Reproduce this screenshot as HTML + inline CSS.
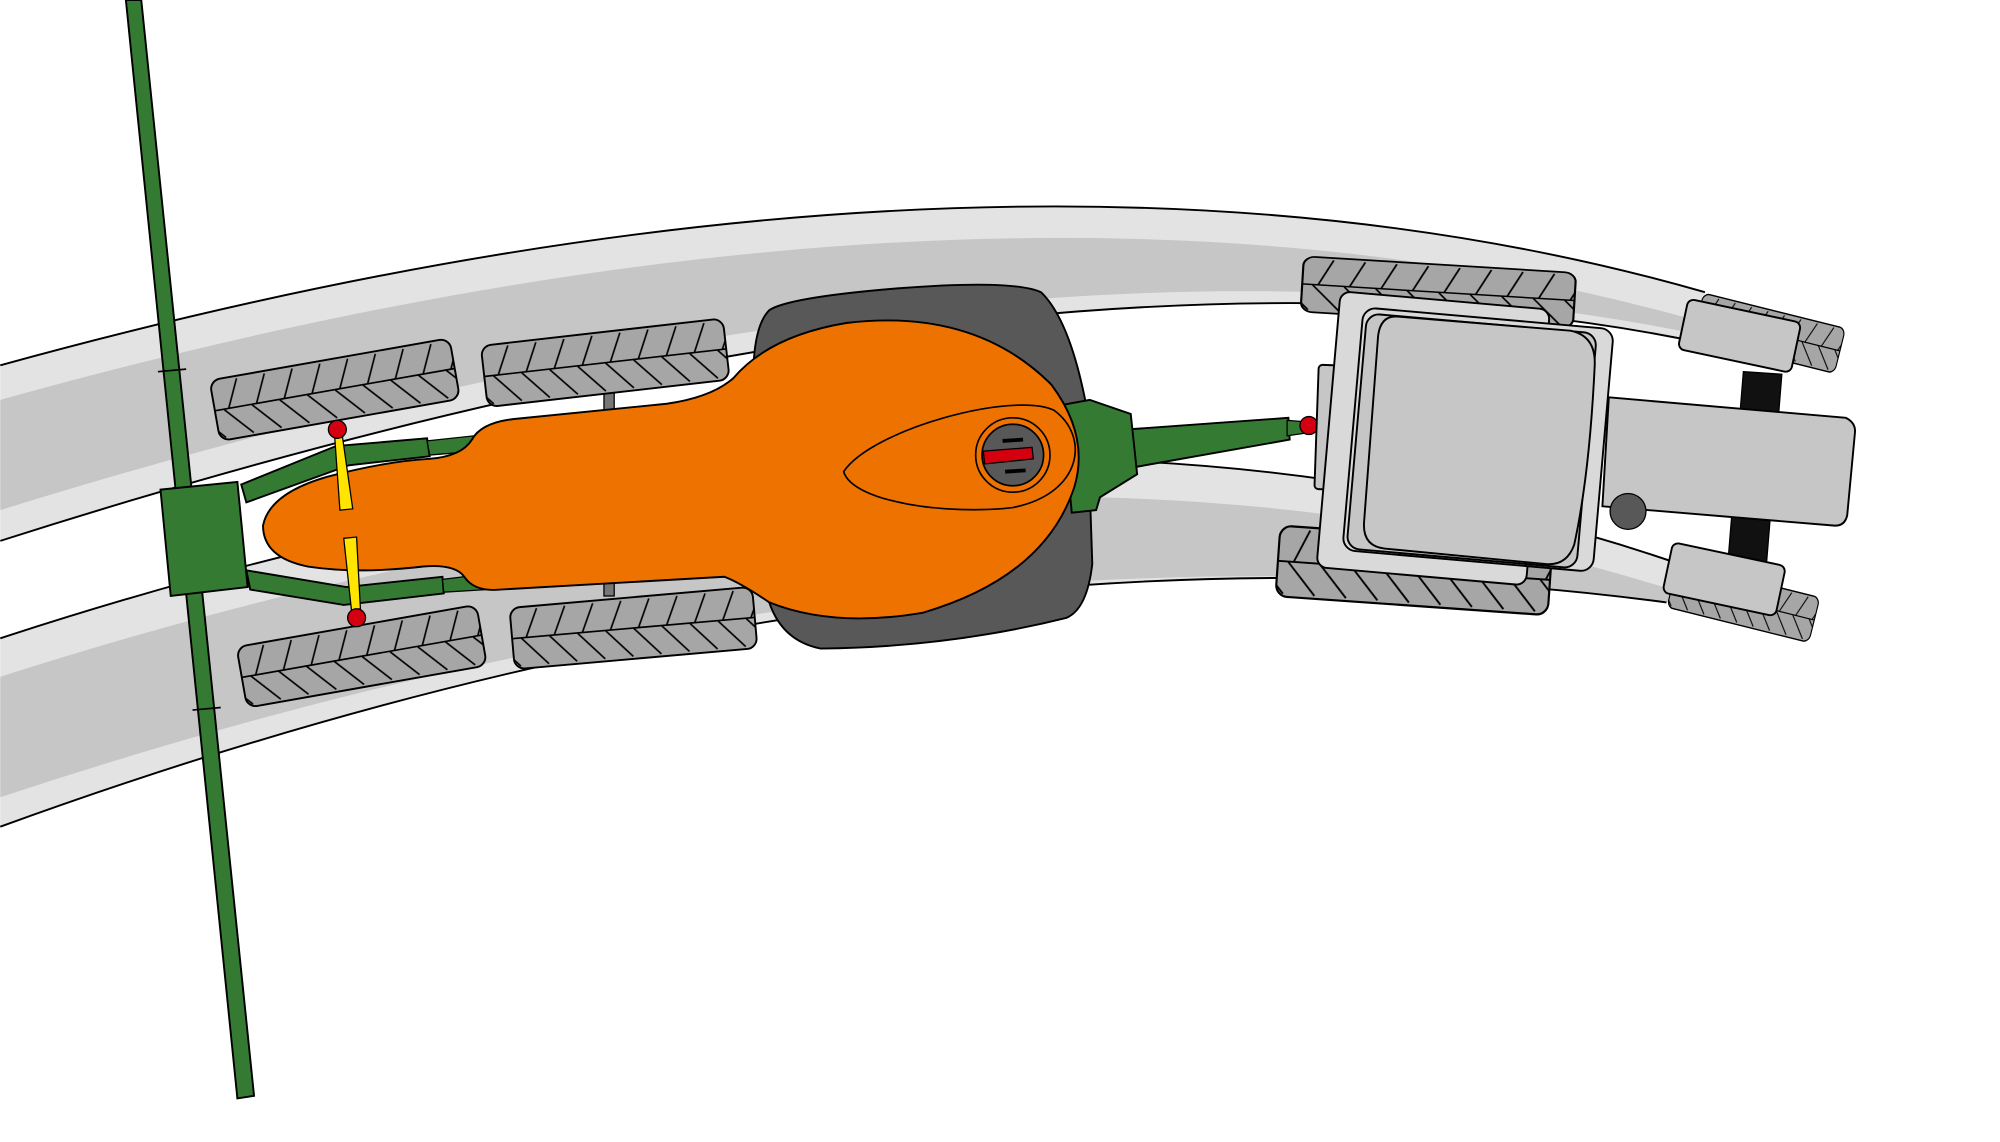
<!DOCTYPE html>
<html><head><meta charset="utf-8"><style>html,body{margin:0;padding:0;background:#fff}svg{display:block}</style></head>
<body>
<svg width="2000" height="1142" viewBox="0 0 1560 891" xmlns="http://www.w3.org/2000/svg">
<defs>
<pattern id="h" width="22" height="48" patternUnits="userSpaceOnUse">
<rect width="22" height="48" fill="#a6a6a6"/>
<line x1="0" y1="0" x2="20" y2="22" stroke="#000" stroke-width="1.3"/>
<line x1="14" y1="26" x2="4" y2="48" stroke="#000" stroke-width="1.3"/>
</pattern>
<g id="trk"><rect x="-95" y="-24" width="190" height="48" rx="8" fill="url(#h)" stroke="#000" stroke-width="1.5"/><line x1="-95" y1="0" x2="95" y2="0" stroke="#000" stroke-width="1.3"/></g>
</defs>
<rect width="1560" height="891" fill="#fff"/>
<!-- upper band -->
<path d="M0,285 Q780,70 1330,228 L1330,268 Q820,160 0,422 Z" fill="#e3e3e3"/>
<path d="M0,312 Q780,94 1330,252 L1330,262 Q800,150 0,398 Z" fill="#c5c6c5"/>
<path d="M0,285 Q780,70 1330,228" fill="none" stroke="#000" stroke-width="1.5"/>
<path d="M0,422 Q820,160 1330,268" fill="none" stroke="#000" stroke-width="1.5"/>
<!-- lower band -->
<path d="M0,498 Q760,250 1310,440 L1300,470 Q700,390 0,645 Z" fill="#e3e3e3"/>
<path d="M0,528 Q760,285 1310,462 L1300,470 Q700,390 0,622 Z" fill="#c5c6c5"/>
<path d="M0,498 Q760,250 1310,440" fill="none" stroke="#000" stroke-width="1.5"/>
<path d="M0,645 Q700,390 1300,470" fill="none" stroke="#000" stroke-width="1.5"/>
<!-- left tracks -->
<rect x="471" y="300" width="8" height="165" fill="#777" stroke="#000"/>
<use href="#trk" transform="translate(261,304) rotate(-10)"/>
<use href="#trk" transform="translate(472,283) rotate(-6.5)"/>
<use href="#trk" transform="translate(282,512) rotate(-10)"/>
<use href="#trk" transform="translate(494,490) rotate(-5)"/>
<!-- left green beam -->
<polygon points="98,0 110,0 198,855 185,857" fill="#357a32" stroke="#000" stroke-width="1.5"/>
<line x1="123" y1="290" x2="145" y2="288" stroke="#000" stroke-width="1.3"/>
<line x1="150" y1="554" x2="172" y2="552" stroke="#000" stroke-width="1.3"/>
<polygon points="188,378 262,348 333,342 335,356 272,363 192,392" fill="#357a32" stroke="#000" stroke-width="1.5"/>
<polygon points="192,445 270,458 345,450 346,463 268,472 195,460" fill="#357a32" stroke="#000" stroke-width="1.5"/>
<polygon points="333,344 370,340 372,352 335,355" fill="#357a32" stroke="#000"/>
<polygon points="345,452 378,448 380,460 346,462" fill="#357a32" stroke="#000"/>
<polygon points="125,382 185,376 193,458 133,465" fill="#357a32" stroke="#000" stroke-width="1.5"/>
<!-- dark backing -->
<path d="M600,242 Q615,232 700,225 Q790,218 812,228 Q835,250 848,320 L852,440 Q848,475 832,482 Q740,505 640,506 Q610,500 600,470 Q590,380 588,280 Q590,252 600,242 Z" fill="#585858" stroke="#000" stroke-width="1.5"/>
<!-- green hitch right -->
<polygon points="880,335 1005,326 1006,343 882,365" fill="#357a32" stroke="#000" stroke-width="1.5"/>
<polygon points="1004,328 1018,329 1018,338 1004,340" fill="#357a32" stroke="#000"/>
<polygon points="828,316 850,312 882,323 887,370 858,388 855,398 836,400" fill="#357a32" stroke="#000" stroke-width="1.5"/>
<circle cx="1021" cy="332" r="7" fill="#d4000f" stroke="#000"/>
<!-- orange body -->
<path d="M205,410 Q210,385 255,372 Q300,360 335,358 Q360,356 368,343 Q375,330 400,327 L520,315 Q555,310 572,295 Q600,262 660,252 Q760,240 820,300 Q850,340 838,380 Q815,450 720,478 Q650,490 600,470 Q578,455 565,450 L390,460 Q370,462 362,450 Q355,440 330,442 Q280,448 240,442 Q205,435 205,410 Z" fill="#ee7200" stroke="#000" stroke-width="1.5"/>
<path d="M658,368 C680,335 790,305 822,320 C850,340 845,385 790,396 C740,402 665,392 658,368 Z" fill="#ee7200" stroke="#000" stroke-width="1.3"/>
<circle cx="790" cy="355" r="29" fill="#ee7200" stroke="#000" stroke-width="1.3"/>
<circle cx="790" cy="355" r="24" fill="#585858" stroke="#000" stroke-width="1.3"/>
<polygon points="767,352 805,349 806,358 768,362" fill="#d4000f" stroke="#000"/>
<line x1="782" y1="344" x2="798" y2="343" stroke="#000" stroke-width="3"/>
<line x1="784" y1="368" x2="800" y2="367" stroke="#000" stroke-width="3"/>
<!-- yellow bars -->
<polygon points="261,342 267,341 275,397 265,398" fill="#ffe500" stroke="#000"/>
<polygon points="268,420 278,419 281,475 274,476" fill="#ffe500" stroke="#000"/>
<circle cx="263" cy="335" r="7" fill="#d4000f" stroke="#000"/>
<circle cx="278" cy="482" r="7" fill="#d4000f" stroke="#000"/>
<!-- tractor tracks -->
<use href="#trk" transform="translate(1122,228) rotate(3.5) scale(1.12,0.9)"/>
<use href="#trk" transform="translate(1103,445) rotate(4) scale(1.12,1.15)"/>
<!-- front wheels -->
<polygon points="1360,290 1390,292 1378,440 1348,438" fill="#111" stroke="#000"/>
<use href="#trk" transform="translate(1380,260) rotate(14) scale(0.6,0.75)"/>
<use href="#trk" transform="translate(1360,470) rotate(14) scale(0.6,0.75)"/>
<rect x="-45" y="-20" width="90" height="40" rx="5" transform="translate(1357,262) rotate(12)" fill="#c5c6c5" stroke="#000" stroke-width="1.5"/>
<rect x="-45" y="-20" width="90" height="40" rx="5" transform="translate(1345,452) rotate(12)" fill="#c5c6c5" stroke="#000" stroke-width="1.5"/>
<!-- hood -->
<path d="M1255,310 L1440,326 Q1448,330 1447,338 L1441,402 Q1439,411 1430,410 L1250,395 Z" fill="#c5c6c5" stroke="#000" stroke-width="1.5"/>
<circle cx="1270" cy="399" r="14" fill="#585858" stroke="#000"/>
<!-- cab -->
<rect x="1027" y="285" width="28" height="97" rx="3" transform="rotate(2 1040 333)" fill="#c5c6c5" stroke="#000" stroke-width="1.5"/>
<rect x="-82" y="-108" width="164" height="216" rx="8" transform="translate(1118,342) rotate(5)" fill="#d8d9d8" stroke="#000" stroke-width="1.5"/>
<rect x="-98" y="-95" width="196" height="190" rx="10" transform="translate(1153,343) rotate(5)" fill="#d8d9d8" stroke="#000" stroke-width="1.5"/>
<rect x="-90" y="-92" width="180" height="184" rx="10" transform="translate(1148,344) rotate(5)" fill="#c5c6c5" stroke="#000" stroke-width="1.5"/>
<path d="M1090,247 L1225,258 Q1245,262 1244,285 Q1240,370 1228,425 Q1222,442 1205,440 L1080,428 Q1063,426 1064,408 L1075,262 Q1077,246 1090,247 Z" fill="#c5c6c5" stroke="#000" stroke-width="1.5"/>
</svg>
</body></html>
